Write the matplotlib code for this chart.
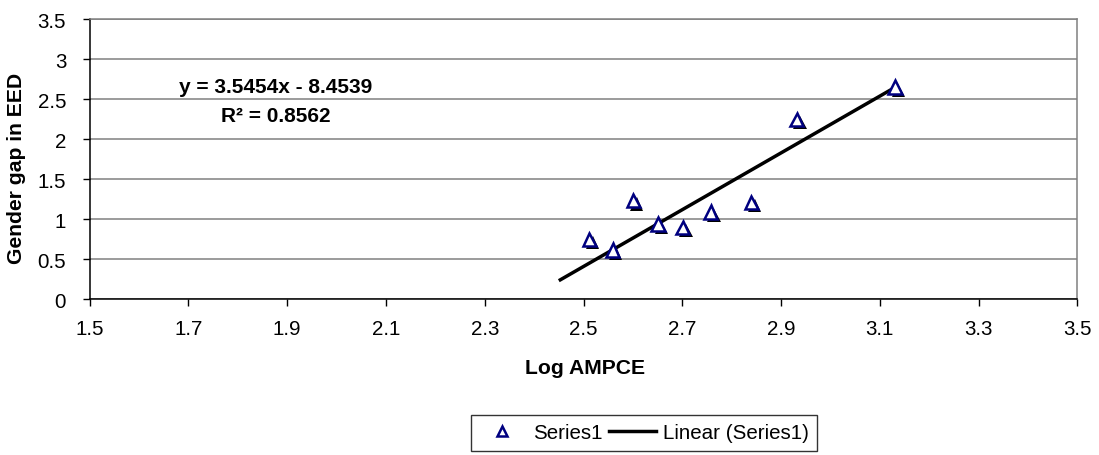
import matplotlib
matplotlib.use("Agg")
import matplotlib.pyplot as plt
import matplotlib.patheffects as pe
from matplotlib.lines import Line2D
import numpy as np

plt.rcParams['font.family'] = ['Liberation Sans', 'DejaVu Sans']

# Observations: log of average monthly per-capita expenditure vs gender gap
log_ampce = [2.512, 2.559, 2.601, 2.651, 2.701, 2.758, 2.840, 2.932, 3.131]
gender_gap = [0.75, 0.615, 1.23, 0.94, 0.90, 1.09, 1.21, 2.25, 2.65]

# Fitted linear trend
slope = 3.5454
intercept = -8.4539
r_squared = 0.8562
trend_start = 2.45

x_ticks = [1.5, 1.7, 1.9, 2.1, 2.3, 2.5, 2.7, 2.9, 3.1, 3.3, 3.5]
y_ticks = [0, 0.5, 1, 1.5, 2, 2.5, 3, 3.5]

W, H = 1099, 456
fig = plt.figure(figsize=(W / 100, H / 100), dpi=100)
ax = fig.add_axes([89.7 / W, 1 - 300.3 / H, (1077.3 - 89.7) / W, (300.3 - 20) / H])

ax.set_xlim(1.5, 3.5)
ax.set_ylim(0, 3.5)
ax.set_xticks(x_ticks)
ax.set_xticklabels([f"{v:g}" for v in x_ticks])
ax.set_yticks(y_ticks)
ax.set_yticklabels([f"{v:g}" for v in y_ticks])
ax.tick_params(axis='both', labelsize=14.8, direction='out', length=5, width=1,
               color='black')
ax.tick_params(axis='x', pad=9)
ax.tick_params(axis='y', pad=12)

ax.grid(axis='y', color='#808080', linewidth=1.1)
ax.set_axisbelow(True)
for side in ('top', 'right'):
    ax.spines[side].set_color('#808080')
    ax.spines[side].set_linewidth(1.1)
for side in ('left', 'bottom'):
    ax.spines[side].set_color('black')
    ax.spines[side].set_linewidth(1.1)

# Trend line
tx = np.array([trend_start, max(log_ampce)])
ax.plot(tx, slope * tx + intercept, color='black', linewidth=2.5, zorder=2,
        solid_capstyle='butt')

# Data points: hollow navy triangles with a dark drop shadow
ax.plot(log_ampce, gender_gap, linestyle='none', marker='^', markersize=9.5,
        markerfacecolor='white', markeredgecolor='#000080', markeredgewidth=1.8,
        zorder=3,
        path_effects=[pe.SimplePatchShadow(offset=(2.3, -2.3), shadow_rgbFace='black',
                                           alpha=1.0), pe.Normal()])

# Equation label
fig.text(276 / W, 1 - 88 / H, f"y = {slope:.4f}x - {abs(intercept):.4f}",
         ha='center', va='center', fontsize=15, fontweight='bold')
fig.text(276 / W, 1 - 116.5 / H, f"R\u00b2 = {r_squared:.4f}",
         ha='center', va='center', fontsize=15, fontweight='bold')

# Axis titles
fig.text(585 / W, 1 - 369 / H, "Log AMPCE", ha='center', va='center',
         fontsize=15.2, fontweight='bold')
fig.text(16.5 / W, 1 - 168 / H, "Gender gap in EED", ha='center', va='center',
         rotation=90, fontsize=15.2, fontweight='bold')

# Legend
handles = [
    Line2D([], [], linestyle='none', marker='^', markersize=7,
           markerfacecolor='white', markeredgecolor='#000080', markeredgewidth=1.8),
    Line2D([], [], color='black', linewidth=2.5),
]
leg = fig.legend(handles, ["Series1", "Linear (Series1)"], loc='center',
                 bbox_to_anchor=(644 / W, 1 - 434 / H), ncol=2, frameon=True,
                 fancybox=False, edgecolor='black', fontsize=14.8,
                 handlelength=2.3, columnspacing=0.3, handletextpad=0.35,
                 borderpad=0.4)
leg.get_frame().set_linewidth(1.0)

fig.savefig("out.png", dpi=100)
